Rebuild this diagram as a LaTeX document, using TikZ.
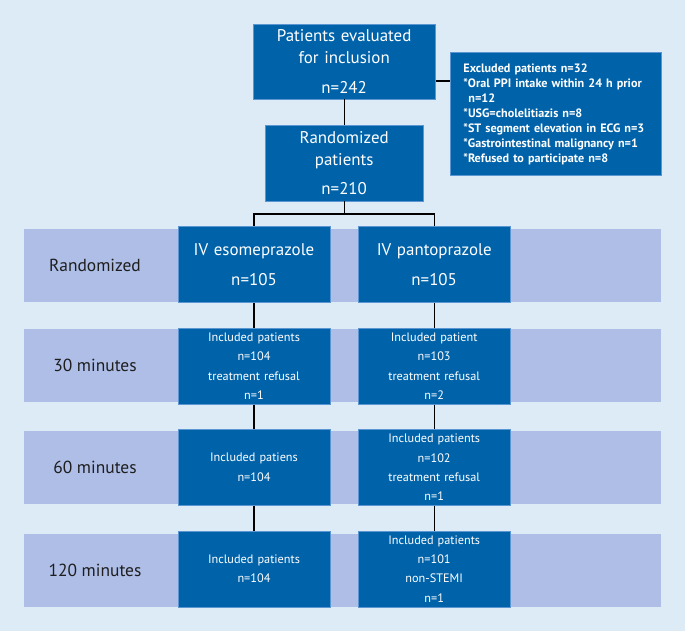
\documentclass[tikz,border=0pt]{standalone}
\usepackage{fontspec}
\setmainfont{PT Sans}
\usepackage{tikz}
\usetikzlibrary{positioning}

\definecolor{bgblue}{RGB}{221,235,247}
\definecolor{bandblue}{RGB}{174,190,231}
\definecolor{boxblue}{RGB}{0,99,170}
\definecolor{boxedge}{RGB}{92,150,210}
\definecolor{labelgray}{RGB}{30,30,30}

\tikzset{
  flowbox/.style={fill=boxblue, draw=boxedge, line width=0.6bp, text=white,
    inner sep=0pt, align=center},
  bigbox/.style={flowbox, font=\fontsize{17}{22}\selectfont},
  smallbox/.style={flowbox, minimum width=152bp, minimum height=76bp,
    text width=150bp, font=\fontsize{12.3}{19.5}\selectfont},
  bandlabel/.style={text=labelgray, font=\fontsize{17.5}{20}\selectfont},
  link/.style={line width=1.2bp, black}
}

\begin{document}
\begin{tikzpicture}[x=1bp, y=-1bp]
\useasboundingbox[fill=bgblue] (0,0) rectangle (685,631);
% time bands
\fill[bandblue] (24,228.7) rectangle (661,301.7);
\fill[bandblue] (24,329) rectangle (661,401.7);
\fill[bandblue] (24,431) rectangle (661,503.7);
\fill[bandblue] (24,534) rectangle (661,606.7);
\node[bandlabel] (lrand) at (95,265) {Randomized};
\node[bandlabel] (l30) at (95,365.4) {30 minutes};
\node[bandlabel] (l60) at (95,467.4) {60 minutes};
\node[bandlabel] (l120) at (95,570) {120 minutes};

% enrolment
\node[bigbox, minimum width=182.3bp, minimum height=75bp, text width=180bp] (eval) at (344.2,61.5)
  {Patients evaluated\\for inclusion\\[7.7bp]n=242};
\node[flowbox, minimum width=210.3bp, minimum height=123bp, text width=185bp, align=left,
  font=\bfseries\fontsize{12.2}{15}\selectfont] (excl) at (555.9,114.2)
  {Excluded patients n=32\\{*}Oral PPI intake within 24 h prior\\\hspace*{5bp}n=12\\{*}USG=cholelitiazis n=8\\{*}ST segment elevation in ECG n=3\\{*}Gastrointestinal malignancy n=1\\{*}Refused to participate n=8};
\node[bigbox, minimum width=158.3bp, minimum height=76bp, text width=156bp] (rand) at (344.2,163)
  {Randomized\\patients\\[7.7bp]n=210};

% arms
\node[bigbox, minimum width=152bp, minimum height=76bp, text width=150bp] (eso) at (254,264.7)
  {IV esomeprazole\\[7.3bp]n=105};
\node[bigbox, minimum width=152bp, minimum height=76bp, text width=150bp] (panto) at (434.2,264.7)
  {IV pantoprazole\\[7.3bp]n=105};

\node[smallbox] (eso30) at (254,366.2) {Included patients\\n=104\\treatment refusal\\n=1};
\node[smallbox] (panto30) at (434.2,366.2) {Included patient\\n=103\\treatment refusal\\n=2};
\node[smallbox] (eso60) at (254,467.4) {Included patiens\\n=104};
\node[smallbox] (panto60) at (434.2,467.4) {Included patients\\n=102\\treatment refusal\\n=1};
\node[smallbox] (eso120) at (254,568.9) {Included patients\\n=104};
\node[smallbox] (panto120) at (434.2,568.9) {Included patients\\n=101\\non-STEMI\\n=1};

% connectors
\draw[link] (eval) -- (rand);
\draw[link] (eval.east |- 0,81) -- (excl.west |- 0,81);
\draw[link] (rand.south) -- ++(0,12.7) -| (eso.north);
\draw[link] (rand.south) ++(0,12.7) -| (panto.north);
\draw[link] (eso) -- (eso30);
\draw[link] (eso30) -- (eso60);
\draw[link] (eso60) -- (eso120);
\draw[link] (panto) -- (panto30);
\draw[link] (panto30) -- (panto60);
\draw[link] (panto60) -- (panto120);
\end{tikzpicture}
\end{document}
